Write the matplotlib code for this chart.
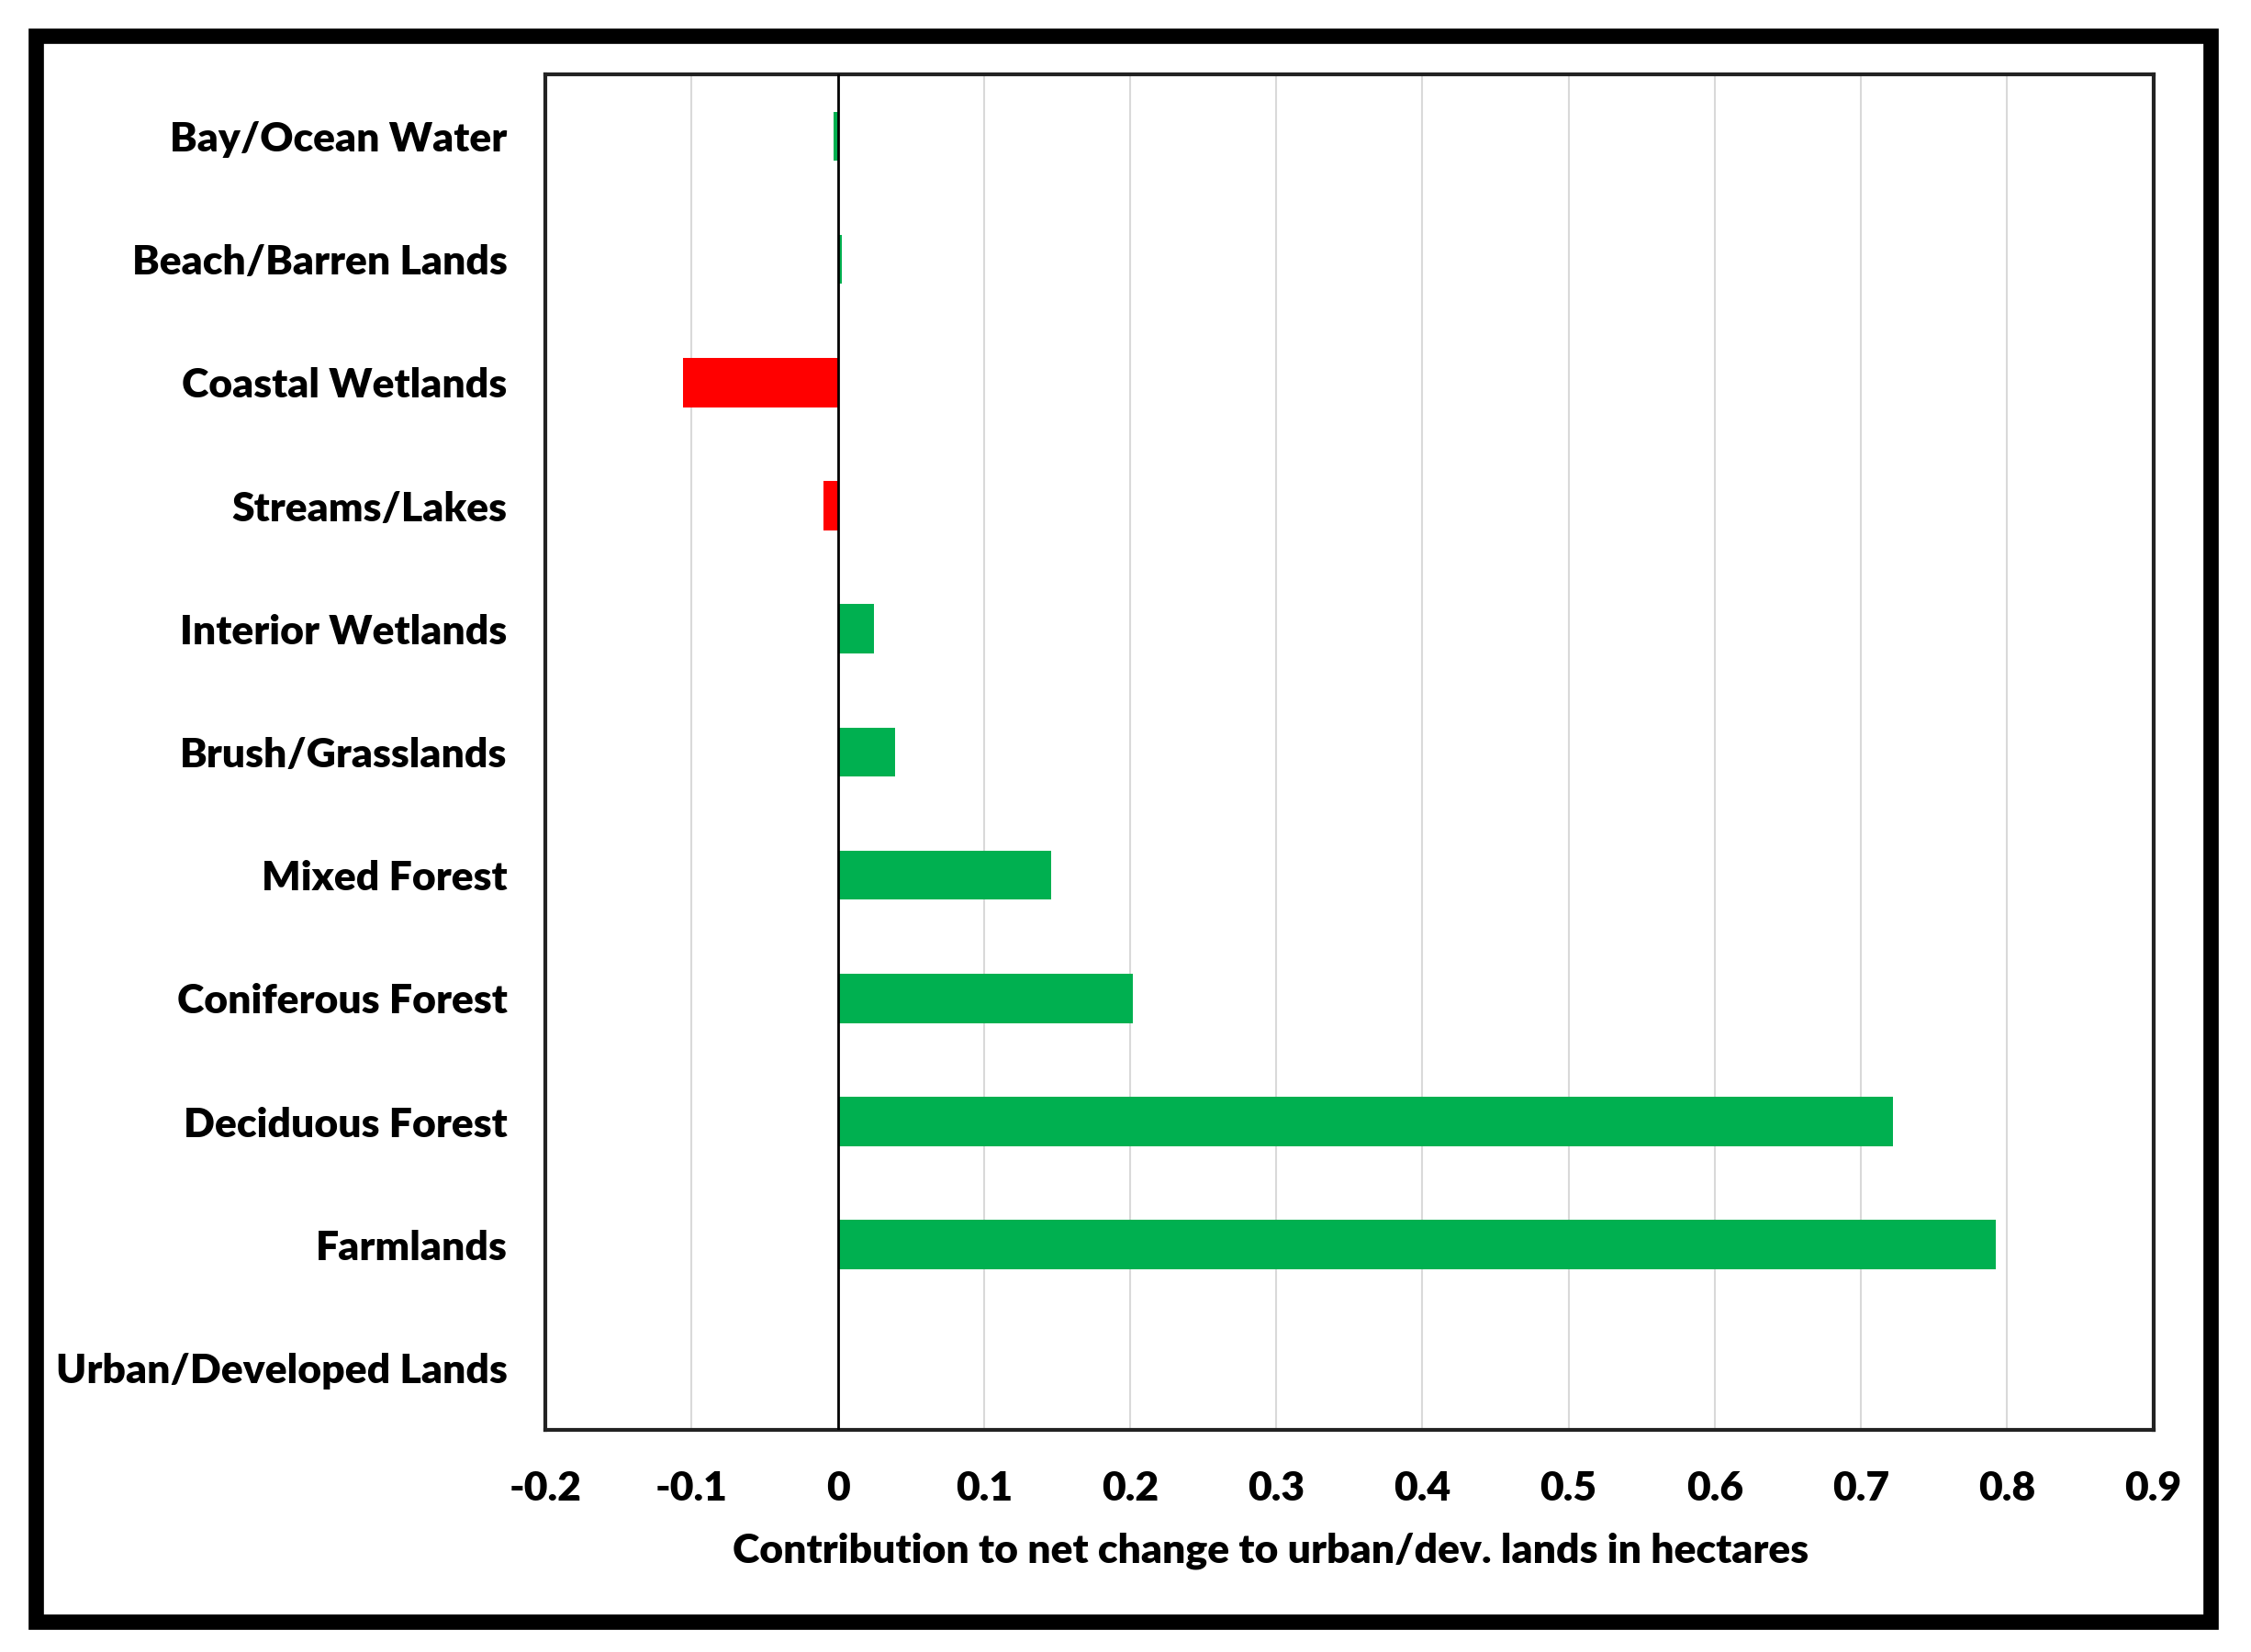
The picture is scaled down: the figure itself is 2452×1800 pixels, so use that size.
import matplotlib
matplotlib.use('Agg')
import matplotlib.pyplot as plt
from matplotlib.patches import Rectangle

# ── Data ──────────────────────────────────────────────
CATEGORIES = ['Bay/Ocean Water', 'Beach/Barren Lands', 'Coastal Wetlands',
              'Streams/Lakes', 'Interior Wetlands', 'Brush/Grasslands',
              'Mixed Forest', 'Coniferous Forest', 'Deciduous Forest',
              'Farmlands', 'Urban/Developed Lands']
VALUES = [-0.003, 0.003, -0.106, -0.010, 0.0245, 0.039,
          0.146, 0.202, 0.722, 0.792, 0.0]
COLORS = ['#00B050', '#00B050', '#FF0000', '#FF0000', '#00B050', '#00B050',
          '#00B050', '#00B050', '#00B050', '#00B050', '#00B050']
XTICKS = [-0.2, -0.1, 0, 0.1, 0.2, 0.3, 0.4, 0.5, 0.6, 0.7, 0.8, 0.9]
XTICK_LABELS = ['-0.2', '-0.1', '0', '0.1', '0.2', '0.3', '0.4', '0.5',
                '0.6', '0.7', '0.8', '0.9']
XLABEL = 'Contribution to net change to urban/dev. lands in hectares'

plt.rcParams['font.family'] = ['Lato', 'DejaVu Sans']

FS = 32
W = 'heavy'

fig = plt.figure(figsize=(24.52, 18.0), dpi=100)
ax = fig.add_axes([0.2423, 0.1347, 0.7143, 0.8201])

ypos = list(range(len(CATEGORIES)))
ax.barh(ypos, VALUES, height=0.4, color=COLORS, zorder=3)

ax.set_xlim(-0.2, 0.9)
ax.set_ylim(len(CATEGORIES) - 0.5, -0.5)
ax.set_yticks(ypos)
ax.set_yticklabels(CATEGORIES, fontsize=FS, fontweight=W)
ax.set_xticks(XTICKS)
ax.set_xticklabels(XTICK_LABELS, fontsize=FS, fontweight=W)
ax.tick_params(axis='both', length=0)
ax.tick_params(axis='y', pad=30)
ax.tick_params(axis='x', pad=32)
for lbl in ax.get_yticklabels():
    lbl.set_va('center_baseline')

ax.grid(axis='x', color='#d9d9d9', linewidth=1.5, zorder=0)
ax.axvline(0, color='black', linewidth=2, zorder=4)
for s in ax.spines.values():
    s.set_linewidth(3)
    s.set_color('#222222')

ax.set_xlabel(XLABEL, fontsize=FS, fontweight=W)
ax.xaxis.set_label_coords(0.451, -0.076)

# outer black frame
fig.patches.append(Rectangle((0.0159, 0.0183), 0.966, 0.960,
                             transform=fig.transFigure, fill=False,
                             edgecolor='black', linewidth=12))

fig.savefig('out.png', dpi=100)
